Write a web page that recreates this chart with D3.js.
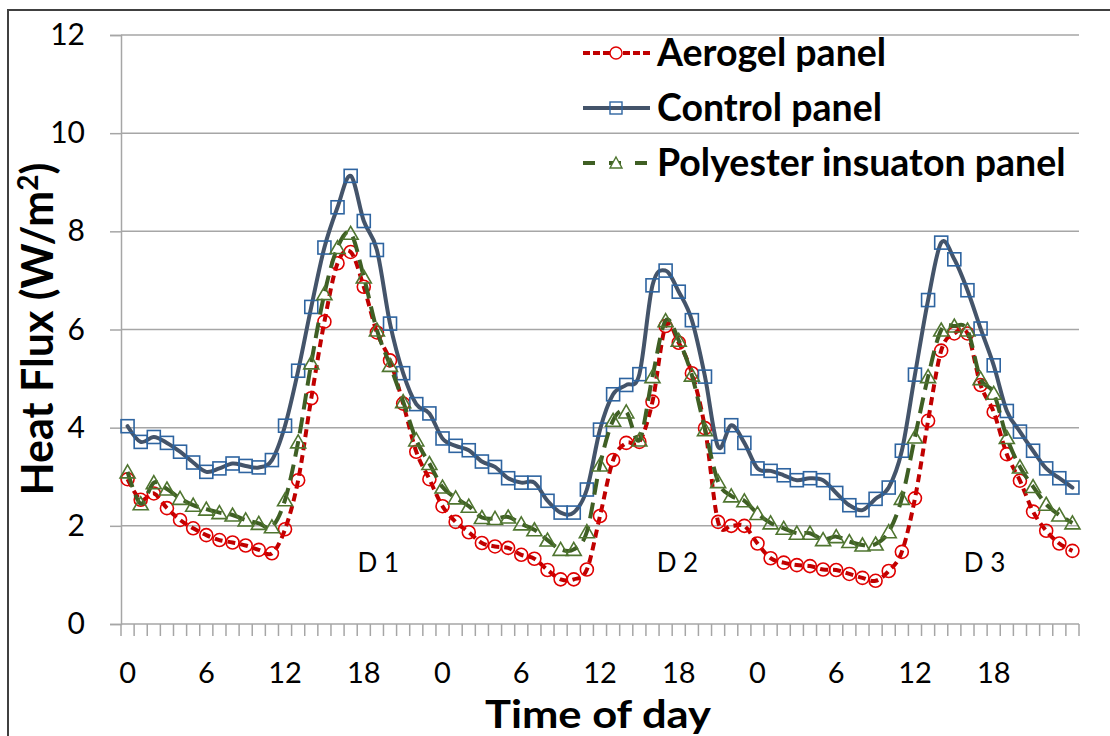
<!DOCTYPE html>
<html>
<head>
<meta charset="utf-8">
<script src="https://cdn.jsdelivr.net/npm/d3@7"></script>
<style>
  html, body { margin: 0; padding: 0; background: #fff; }
  svg { display: block; font-family: Lato, "Open Sans", sans-serif; }
</style>
</head>
<body>
<svg id="chart" width="1110" height="736"></svg>
<script>
// ---------------- data ----------------
const hours = d3.range(73); // 3 days of hourly readings (0..72)
const xTickIndex = [0, 6, 12, 18, 24, 30, 36, 42, 48, 54, 60, 66];
const xTickLabels = ["0", "6", "12", "18", "0", "6", "12", "18", "0", "6", "12", "18"];
const yTicks = [0, 2, 4, 6, 8, 10, 12];
const seriesNames = ["Aerogel panel", "Control panel", "Polyester insuaton panel"];
const dayLabels = ["D 1", "D 2", "D 3"];
const dayLabelHour = [19.1, 41.9, 65.3];

const aerogel = [2.95, 2.53, 2.66, 2.36, 2.12, 1.95, 1.81, 1.71, 1.66, 1.60, 1.51, 1.44, 1.93, 2.93, 4.60, 6.16, 7.35, 7.58, 6.87, 5.94,
  5.37, 4.49, 3.51, 2.95, 2.40, 2.08, 1.87, 1.65, 1.58, 1.55, 1.41, 1.33, 1.10, 0.91, 0.91, 1.11, 2.20, 3.34, 3.69, 3.71,
  4.53, 6.07, 5.73, 5.11, 3.99, 2.08, 2.00, 2.00, 1.64, 1.34, 1.25, 1.20, 1.18, 1.11, 1.10, 1.02, 0.94, 0.88, 1.08, 1.47,
  2.56, 4.14, 5.57, 5.92, 5.92, 4.87, 4.32, 3.46, 2.92, 2.29, 1.90, 1.64, 1.49];

const control = [4.03, 3.71, 3.81, 3.69, 3.51, 3.29, 3.10, 3.17, 3.27, 3.22, 3.19, 3.34, 4.04, 5.16, 6.46, 7.67, 8.49, 9.13, 8.21, 7.62,
  6.12, 5.11, 4.48, 4.29, 3.78, 3.63, 3.54, 3.31, 3.20, 2.97, 2.88, 2.88, 2.51, 2.27, 2.27, 2.74, 3.96, 4.68, 4.87, 5.09,
  6.90, 7.20, 6.77, 6.19, 5.04, 3.61, 4.05, 3.69, 3.17, 3.12, 3.03, 2.93, 2.97, 2.93, 2.67, 2.42, 2.32, 2.55, 2.78, 3.53,
  5.08, 6.60, 7.77, 7.43, 6.80, 6.02, 5.27, 4.34, 3.92, 3.53, 3.17, 2.97, 2.78];

const polyester = [3.10, 2.45, 2.88, 2.75, 2.56, 2.42, 2.34, 2.27, 2.22, 2.12, 2.05, 1.98, 2.53, 3.71, 5.32, 6.73, 7.67, 7.96, 7.07, 5.99,
  5.27, 4.53, 3.75, 3.27, 2.79, 2.57, 2.40, 2.17, 2.15, 2.18, 2.04, 1.92, 1.71, 1.52, 1.52, 1.88, 3.24, 4.15, 4.32, 3.75,
  5.04, 6.18, 5.78, 5.07, 3.96, 2.90, 2.61, 2.51, 2.25, 2.06, 1.95, 1.85, 1.85, 1.72, 1.78, 1.68, 1.61, 1.63, 1.88, 2.56,
  3.81, 5.04, 5.99, 6.07, 5.99, 5.00, 4.70, 3.80, 3.20, 2.80, 2.44, 2.22, 2.06];

// ---------------- layout ----------------
const svg = d3.select("#chart");
const plot = { left: 121, right: 1079, top: 35, bottom: 624 };

const x = d3.scaleBand().domain(hours).range([plot.left, plot.right]).padding(0);
const y = d3.scaleLinear().domain([0, 12]).range([plot.bottom, plot.top]);
const cx = i => x(i) + x.bandwidth() / 2;
const hx = h => x(0) + x.bandwidth() / 2 + h * x.step();

const gridColor = "#a6a6a6";

// outer chart border
svg.append("rect").attr("x", 8).attr("y", 10).attr("width", 1130).attr("height", 760)
  .attr("fill", "none").attr("stroke", "#404040").attr("stroke-width", 2);

// horizontal gridlines
svg.append("g").selectAll("line").data(yTicks).join("line")
  .attr("x1", plot.left).attr("x2", plot.right)
  .attr("y1", d => y(d)).attr("y2", d => y(d))
  .attr("stroke", gridColor).attr("stroke-width", 1.5);

// left axis
const yAxis = svg.append("g").attr("transform", `translate(${plot.left},0)`)
  .call(d3.axisLeft(y).tickValues(yTicks).tickSize(11).tickPadding(25).tickFormat(d3.format("d")));
yAxis.select(".domain").attr("stroke", gridColor).attr("stroke-width", 1.5);
yAxis.selectAll(".tick line").attr("stroke", gridColor).attr("stroke-width", 1.5);
yAxis.selectAll(".tick text").attr("font-size", 30).attr("fill", "#000")
  .attr("font-family", "Lato, sans-serif");

// bottom axis: labels at category centres
const xAxis = svg.append("g").attr("transform", `translate(0,${plot.bottom})`)
  .call(d3.axisBottom(x).tickValues(xTickIndex).tickSize(0).tickPadding(38)
    .tickFormat((d, i) => xTickLabels[i]));
xAxis.select(".domain").remove();
xAxis.selectAll(".tick text").attr("font-size", 29).attr("fill", "#000")
  .attr("font-family", "Lato, sans-serif");

// tick marks at category boundaries
const boundaries = hours.map(i => x(i)).concat([x(72) + x.bandwidth()]);
svg.append("g").selectAll("line").data(boundaries).join("line")
  .attr("x1", d => d).attr("x2", d => d)
  .attr("y1", plot.bottom).attr("y2", plot.bottom + 12)
  .attr("stroke", gridColor).attr("stroke-width", 1.5);

// ---------------- series ----------------
const curve = d3.curveCatmullRom.alpha(0);
const series = [
  { name: seriesNames[0], values: aerogel, line: "#c00000", dash: "8,5", marker: "circle", mcolor: "#e00000" },
  { name: seriesNames[1], values: control, line: "#44546a", dash: null, marker: "square", mcolor: "#2e64a0" },
  { name: seriesNames[2], values: polyester, line: "#3f5f24", dash: "16,8", marker: "triangle", mcolor: "#4f7530" }
];

function drawMarker(g, type, color) {
  if (type === "circle") {
    g.append("circle").attr("r", 6.5).attr("fill", "none").attr("stroke", color).attr("stroke-width", 1.6);
  } else if (type === "square") {
    g.append("rect").attr("x", -6.5).attr("y", -6.5).attr("width", 13).attr("height", 13)
      .attr("fill", "none").attr("stroke", color).attr("stroke-width", 1.6);
  } else {
    g.append("path").attr("d", "M0,-7L7.5,6L-7.5,6Z")
      .attr("fill", "none").attr("stroke", color).attr("stroke-width", 1.6);
  }
}

const lineGen = d3.line().x((d, i) => cx(i)).y(d => y(d)).curve(curve);

series.forEach(s => {
  const g = svg.append("g");
  g.append("path").datum(s.values).attr("d", lineGen)
    .attr("fill", "none").attr("stroke", s.line).attr("stroke-width", 4)
    .attr("stroke-dasharray", s.dash).attr("stroke-linecap", s.dash ? "butt" : "round");
  g.selectAll("g.m").data(s.values).join("g").attr("class", "m")
    .attr("transform", (d, i) => `translate(${cx(i)},${y(d)})`)
    .each(function () { drawMarker(d3.select(this), s.marker, s.mcolor); });
});

// day labels
svg.append("g").selectAll("text").data(dayLabels).join("text")
  .attr("x", (d, i) => hx(dayLabelHour[i]))
  .attr("y", 572).attr("text-anchor", "middle")
  .attr("font-size", 26).attr("fill", "#000").text(d => d);

// ---------------- legend ----------------
const legendY = [53, 108, 163];
const lg = svg.append("g");
series.forEach((s, i) => {
  const row = lg.append("g").attr("transform", `translate(0,${legendY[i]})`);
  row.append("line").attr("x1", 583).attr("x2", 650).attr("y1", 0).attr("y2", 0)
    .attr("stroke", s.line).attr("stroke-width", 4).attr("stroke-dasharray", s.dash ? (i === 0 ? "7,3" : "12,14") : null);
  const m = row.append("g").attr("transform", "translate(616,0)");
  if (s.marker === "circle") m.append("circle").attr("r", 6).attr("fill", "#fff").attr("stroke", s.mcolor).attr("stroke-width", 1.4);
  else if (s.marker === "square") m.append("rect").attr("x", -6).attr("y", -6).attr("width", 12).attr("height", 12).attr("fill", "none").attr("stroke", s.mcolor).attr("stroke-width", 1.4);
  else m.append("path").attr("d", "M0,-6L6,5L-6,5Z").attr("fill", "#fff").attr("stroke", s.mcolor).attr("stroke-width", 1.4);
  row.append("text").attr("x", 657).attr("y", 13).attr("font-size", 37.5).attr("font-weight", "bold")
    .attr("fill", "#000").text(s.name);
});

// ---------------- axis titles ----------------
const yt = svg.append("text").attr("transform", "translate(53,329) rotate(-90)")
  .attr("text-anchor", "middle").attr("font-size", 43).attr("font-weight", "bold").attr("fill", "#000");
yt.append("tspan").text("Heat Flux (W/m");
yt.append("tspan").attr("font-size", 28).attr("dy", -15).text("2");
yt.append("tspan").attr("dy", 15).text(")");

svg.append("text").attr("x", 598).attr("y", 727.5).attr("text-anchor", "middle")
  .attr("font-size", 39).attr("font-weight", "bold").attr("fill", "#000")
  .attr("textLength", 226).attr("lengthAdjust", "spacingAndGlyphs").text("Time of day");
</script>
</body>
</html>
